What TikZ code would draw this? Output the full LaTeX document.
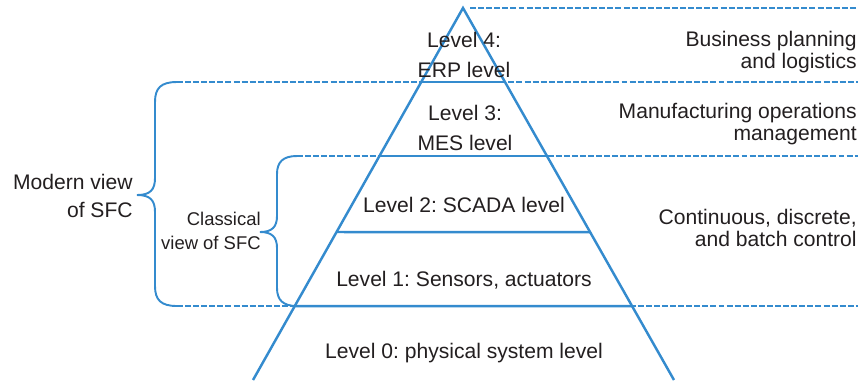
\documentclass[tikz,border=0pt]{standalone}
\usepackage{fontspec}
\setmainfont{Liberation Sans}
\frenchspacing
\definecolor{pyrblue}{RGB}{52,139,206}
\definecolor{inktext}{RGB}{35,31,32}

\begin{document}
\begin{tikzpicture}[
    x=0.02cm, y=-0.02cm,
    edge/.style={draw=pyrblue, line width=1.4pt},
    guide/.style={draw=pyrblue, dashed, dash pattern=on 3.4pt off 1.2pt, line width=0.8pt},
    brace/.style={draw=pyrblue, line width=1.1pt},
    lvl/.style={text=inktext, align=center, inner sep=0pt, font=\fontsize{12}{17}\selectfont},
    note/.style={text=inktext, align=right, inner sep=0pt, anchor=east, font=\fontsize{12}{13}\selectfont},
    view/.style={text=inktext, align=right, inner sep=0pt, anchor=east}
  ]
    \useasboundingbox (0,0) rectangle (858,380);

    % pyramid
    \coordinate (apex) at (463,8);
    \coordinate (bl)   at (253,380);
    \coordinate (br)   at (674,380);

    % dashed guides behind the pyramid
    \draw[guide] (470,8)   -- (858,8);
    \draw[guide] (177,82)  -- (858,82);
    \draw[guide] (297,156) -- (858,156);
    \draw[guide] (177,306) -- (858,306);

    \draw[edge] (bl) -- (apex) -- (br);
    \foreach \y/\n in {82/a, 156/b, 232/c, 306/d} {
      \coordinate (\n l) at (intersection of apex--bl and 0,\y--1,\y);
      \coordinate (\n r) at (intersection of apex--br and 0,\y--1,\y);
      \draw[edge] (\n l) -- (\n r);
    }

    % braces
    \draw[brace] (177,82) .. controls (161,82) and (155,88) .. (155,102) -- (155,178)
      .. controls (155,190) and (150,195) .. (137,195)
      .. controls (150,195) and (155,200) .. (155,212) -- (155,286)
      .. controls (155,300) and (161,306) .. (177,306);
    \draw[brace] (297,156) .. controls (283,156) and (277,162) .. (277,174) -- (277,216)
      .. controls (277,227) and (272,232) .. (260,232)
      .. controls (272,232) and (277,237) .. (277,248) -- (277,288)
      .. controls (277,300) and (283,306) .. (297,306);

    \node[lvl] (lev4) at (464,55)  {Level 4:\\ERP level};
    \node[lvl] (lev3) at (465,128) {Level 3:\\MES level};
    \node[lvl] (lev2) at (464,205) {Level 2: SCADA level};
    \node[lvl] (lev1) at (464,280) {Level 1: Sensors, actuators};
    \node[lvl] (lev0) at (464,353) {Level 0: physical system level};

    \node[note] (bus) at (857,52)  {Business planning\\and logistics};
    \node[note] (mfg) at (857,124) {Manufacturing operations\\management};
    \node[note] (ctl) at (857,228) {Continuous, discrete,\\and batch control};

    \node[view, font=\fontsize{12}{15.5}\selectfont]   (modern)    at (133,196) {Modern view\\of SFC};
    \node[view, font=\fontsize{10.5}{13.5}\selectfont] (classical) at (261,231) {Classical\\view of SFC};
  \end{tikzpicture}
\end{document}
